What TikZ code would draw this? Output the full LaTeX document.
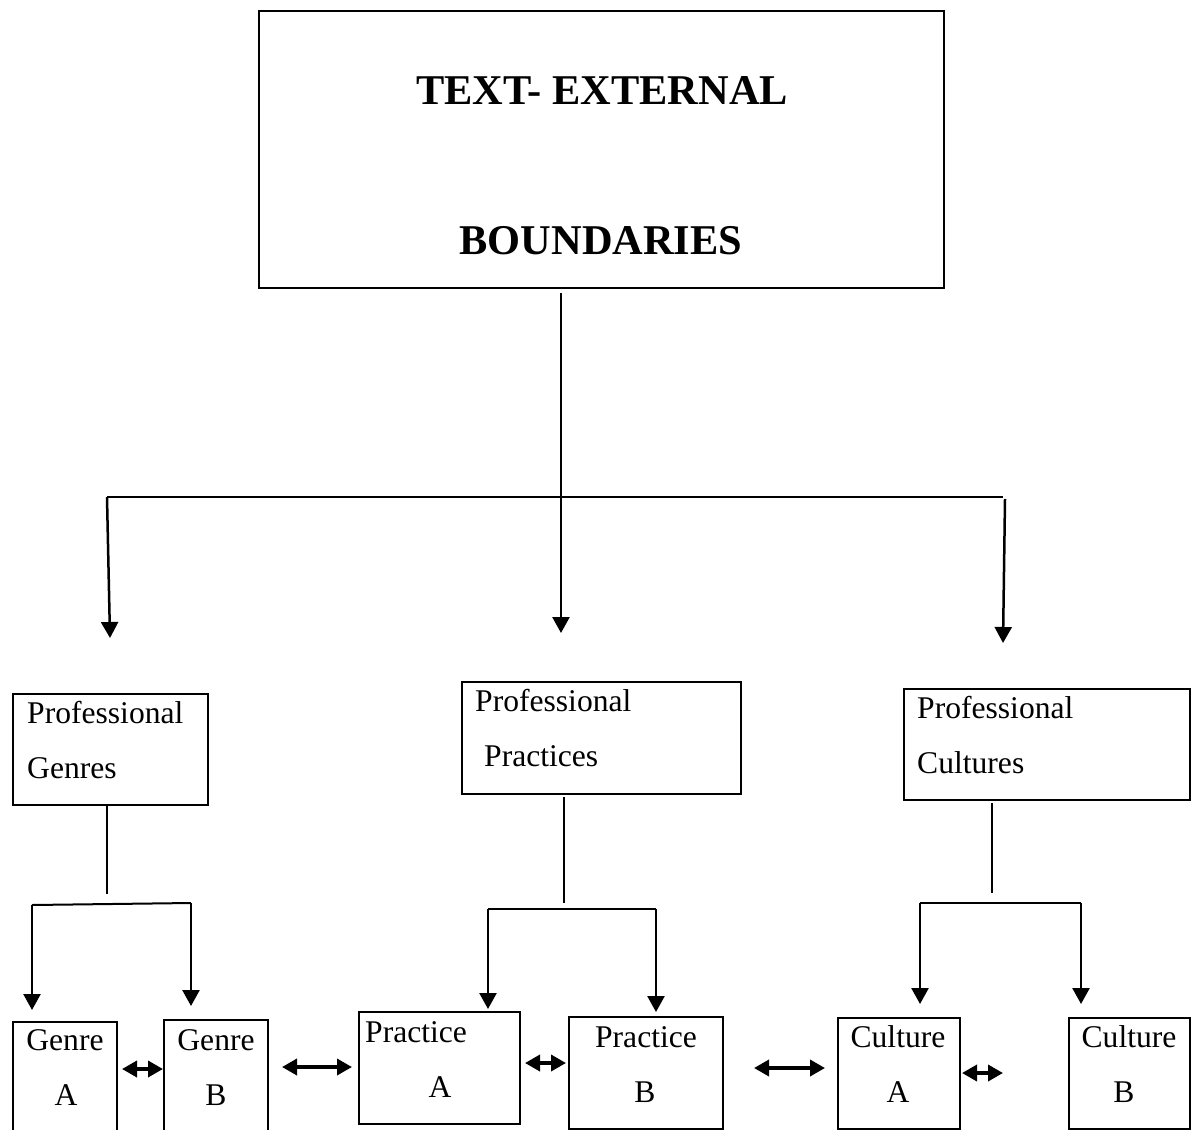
\documentclass[tikz,border=0pt]{standalone}
\usepackage{fontspec}
\setmainfont{Liberation Serif}
\usetikzlibrary{arrows.meta}
\begin{document}
\begin{tikzpicture}[x=1pt,y=-1pt,
  box/.style={draw,line width=2pt,inner sep=0pt,anchor=north west},
  lbl/.style={inner sep=0pt,anchor=base west,font=\fontsize{31.6}{38}\selectfont},
  lblc/.style={inner sep=0pt,anchor=base,font=\fontsize{31.6}{38}\selectfont},
  ttl/.style={inner sep=0pt,anchor=base,font=\fontsize{42.4}{50}\selectfont\bfseries},
  conn/.style={line width=2pt},
  arr/.style={line width=2.5pt,-{Triangle[width=17pt,length=16pt]}},
  darr/.style={line width=3.5pt,{Triangle[width=16pt,length=15pt]}-{Triangle[width=16pt,length=15pt]}}]
\useasboundingbox (0,0) rectangle (1198,1129);
\clip (0,0) rectangle (1198,1129);
\fill[white] (0,0) rectangle (1198,1129);
% boxes
\node[box,minimum width=685pt,minimum height=277pt] (top) at (258,10) {};
\node[box,minimum width=195pt,minimum height=111pt] (pg) at (12,693) {};
\node[box,minimum width=279pt,minimum height=112pt] (pp) at (461,681) {};
\node[box,minimum width=286pt,minimum height=111pt] (pc) at (903,688) {};
\node[box,minimum width=104pt,minimum height=130pt] (ga) at (12,1021) {};
\node[box,minimum width=104pt,minimum height=130pt] (gb) at (163,1019) {};
\node[box,minimum width=161pt,minimum height=112pt] (pa) at (358,1011) {};
\node[box,minimum width=154pt,minimum height=112pt] (pb) at (568,1016) {};
\node[box,minimum width=122pt,minimum height=111pt] (ca) at (837,1017) {};
\node[box,minimum width=121pt,minimum height=111pt] (cb) at (1068,1017) {};
% texts
\node[ttl] (t1) at (602,105) {TEXT- EXTERNAL};
\node[ttl] (t2) at (601,254) {BOUNDARIES};
\node[lbl] (pg1) at (27,723) {Professional};
\node[lbl] (pg2) at (27,778) {Genres};
\node[lbl] (pp1) at (475,711) {Professional};
\node[lbl] (pp2) at (484,766) {Practices};
\node[lbl] (pc1) at (917,718) {Professional};
\node[lbl] (pc2) at (917,773) {Cultures};
\node[lblc] (ga1) at (65,1050) {Genre};
\node[lblc] (ga2) at (66,1105) {A};
\node[lblc] (gb1) at (216,1050) {Genre};
\node[lblc] (gb2) at (216,1105) {B};
\node[lbl] (pa1) at (365,1042) {Practice};
\node[lblc] (pa2) at (440,1097) {A};
\node[lblc] (pb1) at (646,1047) {Practice};
\node[lblc] (pb2) at (645,1102) {B};
\node[lblc] (ca1) at (898,1047) {Culture};
\node[lblc] (ca2) at (898,1102) {A};
\node[lblc] (cb1) at (1129,1047) {Culture};
\node[lblc] (cb2) at (1124,1102) {B};
% coordinates
\coordinate (c0) at (561,293);
\coordinate (hl) at (107,497);
\coordinate (hr) at (1005,499);
\coordinate (tipL) at (110,638);
\coordinate (tipM) at (561,633);
\coordinate (tipR) at (1003,643);
\coordinate (g0) at (107,806);
\coordinate (g1) at (107,894);
\coordinate (gl) at (32,905);
\coordinate (gr) at (191,903);
\coordinate (p0) at (564,797);
\coordinate (p1) at (564,903);
\coordinate (pl) at (488,909);
\coordinate (pr) at (656,909);
\coordinate (k0) at (992,803);
\coordinate (k1) at (992,893);
\coordinate (kl) at (920,903);
\coordinate (kr) at (1081,903);
\coordinate (dg) at (282,1067);
\coordinate (dp) at (352,1067);
\coordinate (dpb) at (754,1068);
\coordinate (dca) at (825,1068);
\coordinate (dcr) at (1003,1073);
% top tree
\draw[conn] (hl) -- (1003,497);
\draw[arr] (c0) -- (tipM);
\draw[arr] (hl) -- (tipL);
\draw[arr] (hr) -- (tipR);
% genres
\draw[conn] (g0) -- (g1);
\draw[conn] (gl) -- (gr);
\draw[arr] (gl) -- (32,1010);
\draw[arr] (gr) -- (191,1006);
% practices
\draw[conn] (p0) -- (p1);
\draw[conn] (pl) -- (pr);
\draw[arr] (pl) -- (488,1009);
\draw[arr] (pr) -- (656,1012);
% cultures
\draw[conn] (k0) -- (k1);
\draw[conn] (kl) -- (kr);
\draw[arr] (kl) -- (920,1004);
\draw[arr] (kr) -- (1081,1004);
% double arrows
\draw[darr] ([xshift=4pt]ga.east |- 0,1069) -- (gb.west |- 0,1069);
\draw[darr] (dg) -- (dp);
\draw[darr] ([xshift=4pt]pa.east |- 0,1063) -- ([xshift=-2pt]pb.west |- 0,1063);
\draw[darr] (dpb) -- (dca);
\draw[darr] ([xshift=1pt]ca.east |- 0,1073) -- (dcr);
\end{tikzpicture}
\end{document}
